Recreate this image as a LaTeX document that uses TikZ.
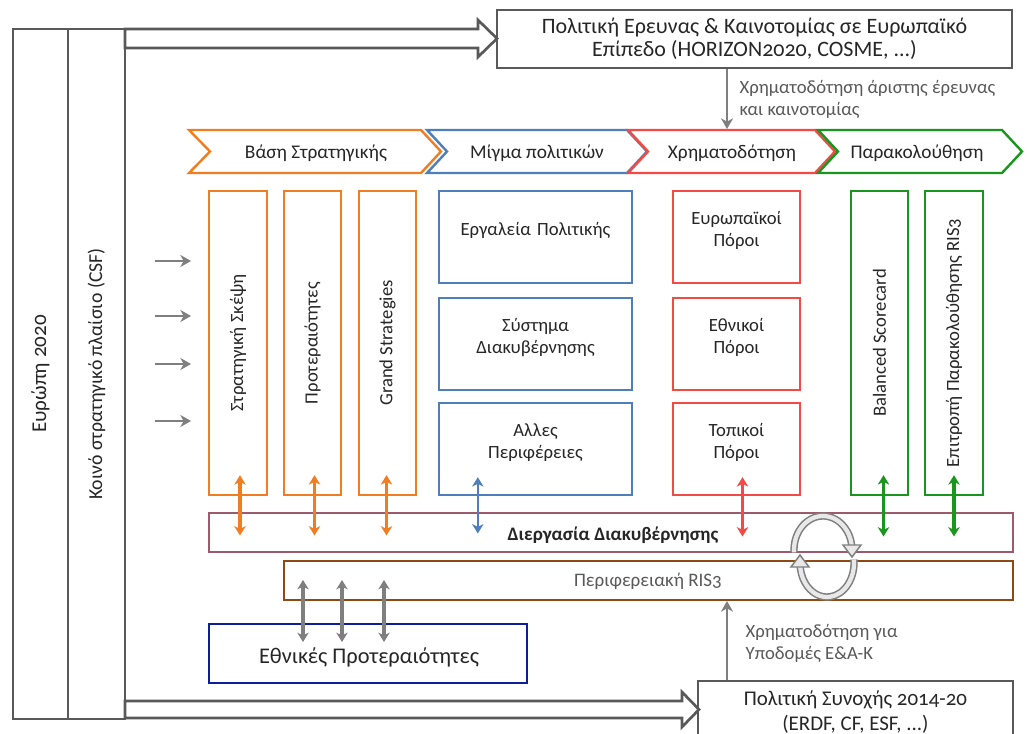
\documentclass[tikz,border=0pt]{standalone}
\usepackage{fontspec}
\setmainfont{Carlito}[Numbers=OldStyle]
\usetikzlibrary{arrows.meta,calc,fit}
\definecolor{fgray}{HTML}{595959}
\definecolor{agray}{HTML}{7F7F7F}
\definecolor{cor}{HTML}{F07D22}
\definecolor{cbl}{HTML}{4F7FBA}
\definecolor{cre}{HTML}{F44A45}
\definecolor{cgr}{HTML}{1A961E}
\definecolor{cgov}{HTML}{9C5A6C}
\definecolor{cris}{HTML}{8E4A14}
\definecolor{cep}{HTML}{0C1E9C}
\definecolor{ctxt}{HTML}{262626}
\tikzset{
  fitbox/.style={inner sep=0pt, line width=1.8pt},
  framebox/.style={fitbox, draw=fgray, line width=1.6pt},
  obox/.style={fitbox, draw=cor},
  bbox/.style={fitbox, draw=cbl},
  rbox/.style={fitbox, draw=cre},
  gbox/.style={fitbox, draw=cgr},
  txt/.style={text=ctxt, align=center, font=\fontsize{14}{16}\selectfont},
  vtxt/.style={txt, rotate=90},
  ctxtst/.style={txt, font=\fontsize{14.5}{17}\selectfont},
  chev/.style={line width=1.8pt, fill=white},
  hollow/.style={draw=fgray, line width=2pt, fill=white},
  tip/.style={-{Stealth[length=8pt,width=9pt,inset=2.5pt]}},
  dtip/.style={{Stealth[length=7pt,width=8.5pt,inset=2pt]}-{Stealth[length=7pt,width=8.5pt,inset=2pt]}},
  garr/.style={tip, draw=agray, line width=2.2pt},
  oarr/.style={dtip, draw=cor, line width=2.3pt},
  barr/.style={dtip, draw=cbl, line width=1.4pt},
  rarr/.style={dtip, draw=cre, line width=2.3pt},
  grarr/.style={dtip, draw=cgr, line width=2.3pt},
  gdarr/.style={dtip, draw=agray, line width=2.3pt},
  lbl/.style={text=fgray, align=left, anchor=west, font=\fontsize{14}{16.5}\selectfont},
  cycout/.style={draw=agray, line width=5.5pt},
  cycin/.style={draw=gray!18, line width=3.2pt},
  cychead/.style={draw=agray, line width=1.1pt, fill=gray!18, line join=miter},
}
\begin{document}
\begin{tikzpicture}[x=0.75pt,y=-0.75pt]
\fill[white] (0,0) rectangle (1027,734);
\useasboundingbox (0,0) rectangle (1027,734);
\clip (0,0) rectangle (1027,734);

% left frames
\node[framebox, fit={(13,29) (68,719)}] (eu) {};
\node[framebox, fit={(68,29) (125,719)}] (csf) {};
\node[vtxt, font=\fontsize{15.8}{18}\selectfont] (eut) at (eu.center) {Ευρώπη 2020};
\node[vtxt, font=\fontsize{14.8}{17}\selectfont] (csft) at (csf.center) {Κοινό στρατηγικό πλαίσιο (CSF)};

% hollow arrows
\draw[hollow] (125,29) -- (478,29) -- (478,20) -- (497,38.5) -- (478,57) -- (478,48) -- (125,48) -- cycle;
\draw[hollow] (125,701) -- (682,701) -- (682,692) -- (699,709.5) -- (682,727) -- (682,718) -- (125,718) -- cycle;

% top and bottom policy boxes
\node[framebox, fit={(497,10) (1012,68)}] (top) {};
\node[txt, font=\fontsize{16.5}{17.5}\selectfont] (topt) at (top.center) {Πολιτική Ερευνας \& Καινοτομίας σε Ευρωπαϊκό\\Επίπεδο (HORIZON2020, COSME, ...)};
\node[framebox, fit={(698,681) (1013,760)}] (coh) {};
\node[txt, font=\fontsize{15.7}{18.8}\selectfont] (coht) at (855.5,712) {Πολιτική Συνοχής 2014-20\\(ERDF, CF, ESF, ...)};

% chevrons
\draw[chev, draw=cor] (189,130) -- (421,130) -- (441,151.5) -- (421,173) -- (189,173) -- (210,151.5) -- cycle;
\draw[chev, draw=cbl] (427,130) -- (627,130) -- (647,151.5) -- (627,173) -- (427,173) -- (447,151.5) -- cycle;
\draw[chev, draw=cre] (628,130) -- (815,130) -- (835,151.5) -- (815,173) -- (628,173) -- (648,151.5) -- cycle;
\draw[chev, draw=cgr] (818,130) -- (1002,130) -- (1022,151.5) -- (1002,173) -- (818,173) -- (838,151.5) -- cycle;
\node[ctxtst] (c1) at (316,153) {Βάση Στρατηγικής};
\node[ctxtst] (c2) at (537,153) {Μίγμα πολιτικών};
\node[ctxtst] (c3) at (732,153) {Χρηματοδότηση};
\node[ctxtst] (c4) at (917,153) {Παρακολούθηση};

% funding arrow from top
\coordinate (chevtop) at (727,129);
\draw[garr] (top.south -| chevtop) -- (chevtop);
\node[lbl] (toplbl) at (735,99) {Χρηματοδότηση άριστης έρευνας\\και καινοτομίας};

% orange boxes
\node[obox, fit={(209,191) (267,495)}] (o1) {};
\node[obox, fit={(284,191) (341,495)}] (o2) {};
\node[obox, fit={(359,191) (416,495)}] (o3) {};
\node[vtxt] (o1t) at (o1.center) {Στρατηγική Σκέψη};
\node[vtxt] (o2t) at (o2.center) {Προτεραιότητες};
\node[vtxt] (o3t) at (o3.center) {Grand Strategies};

% blue boxes
\node[bbox, fit={(439,191) (632,283)}, txt] (b1) {Εργαλεία Πολιτικής};
\node[bbox, fit={(439,298) (632,390)}, txt] (b2) {Σύστημα\\Διακυβέρνησης};
\node[bbox, fit={(439,403) (632,495)}, txt] (b3) {Αλλες\\Περιφέρειες};

% red boxes
\node[rbox, fit={(673,191) (800,283)}, txt] (r1) {Ευρωπαϊκοί\\Πόροι};
\node[rbox, fit={(673,298) (800,390)}, txt] (r2) {Εθνικοί\\Πόροι};
\node[rbox, fit={(673,403) (800,495)}, txt] (r3) {Τοπικοί\\Πόροι};

% green boxes
\node[gbox, fit={(851,191) (908,495)}] (g1) {};
\node[gbox, fit={(925,191) (983,495)}] (g2) {};
\node[vtxt] (g1t) at (g1.center) {Balanced Scorecard};
\node[vtxt] (g2t) at (g2.center) {Επιτροπή Παρακολούθησης RIS3};

% left small arrows
\foreach \yy/\nm in {261/la, 316/lb, 364/lc, 421/ld}{
  \coordinate (\nm) at (155,\yy);
  \draw[garr] (\nm) -- ++(36,0);
}

% bars
\node[fitbox, draw=cgov, line width=1.3pt, fit={(209,513) (1013,552)}] (gov) {};
\node[txt, font=\bfseries\fontsize{14.3}{16}\selectfont] (govt) at (613,535) {Διεργασία Διακυβέρνησης};
\node[fitbox, draw=cris, line width=1.8pt, fit={(284,561) (1013,600)}] (ris) {};
\node[txt, text=fgray, font=\fontsize{14.3}{16}\selectfont] (rist) at (648,581) {Περιφερειακή RIS3};
\node[fitbox, draw=cep, line width=2pt, fit={(209,624) (527,683)}] (ep) {};
\node[txt, font=\fontsize{16.8}{19}\selectfont] (ept) at (369,657) {Εθνικές Προτεραιότητες};

% double arrows to governance bar
\draw[oarr] ($(o1.south)+(2,-21)$) -- ($(o1.south |- gov.center)+(2,3)$);
\draw[oarr] ($(o2.south)+(2,-21)$) -- ($(o2.south |- gov.center)+(2,3)$);
\draw[oarr] ($(o3.south)+(-1,-21)$) -- ($(o3.south |- gov.center)+(-1,3)$);
\draw[barr] ($(b3.south west)+(40,-19)$) -- ($(b3.south west |- gov.center)+(40,1)$);
\draw[rarr] ($(r3.south)+(6,-19)$) -- ($(r3.south |- gov.center)+(6,4)$);
\draw[grarr] ($(g1.south)+(4,-21)$) -- ($(g1.south |- gov.center)+(4,4)$);
\draw[grarr] ($(g2.south)+(0,-21)$) -- ($(g2.south |- gov.center)+(0,4)$);

% gray double arrows RIS3 <-> national priorities
\foreach \xx/\nm in {303/da, 342/db, 384/dc}{
  \coordinate (\nm) at (\xx,580);
  \draw[gdarr] (\nm) -- (\nm |- 0,642);
}

% funding arrow from cohesion to RIS3
\coordinate (risbot) at (727,601);
\draw[garr] (coh.north -| risbot) -- (risbot);
\node[lbl] (botlbl) at (741,643) {Χρηματοδότηση για\\Υποδομές Ε\&Α-Κ};

% circular arrows
\coordinate (cyctop) at (823,550);
\coordinate (cycbot) at (827,563);
\draw[cycout] ($(cyctop)+(176:29 and 34)$) arc[start angle=176, end angle=358, x radius=29, y radius=34];
\draw[cycin] ($(cyctop)+(176:29 and 34)$) arc[start angle=176, end angle=358, x radius=29, y radius=34];
\draw[cychead] (843,545) -- (861,545) -- (852,557) -- cycle;
\draw[cycout] ($(cycbot)+(-6:27 and 34)$) arc[start angle=-6, end angle=178, x radius=27, y radius=34];
\draw[cycin] ($(cycbot)+(-6:27 and 34)$) arc[start angle=-6, end angle=178, x radius=27, y radius=34];
\draw[cychead] (791,567) -- (809,567) -- (800,555) -- cycle;
\end{tikzpicture}
\end{document}
